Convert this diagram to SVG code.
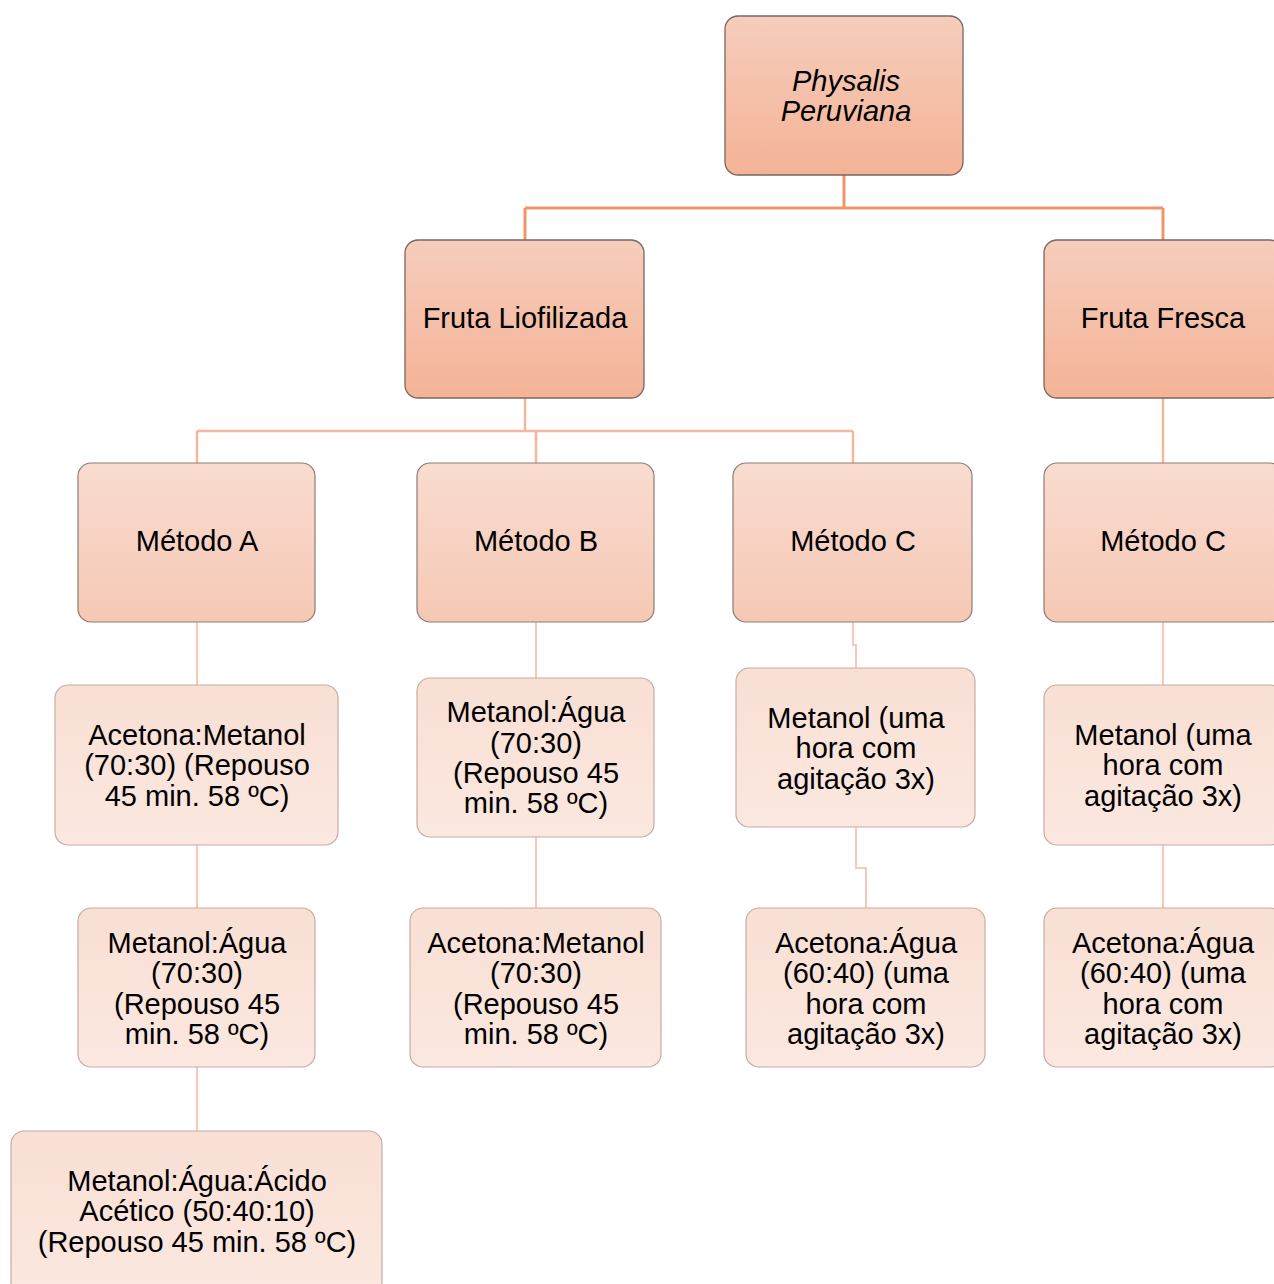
<svg xmlns="http://www.w3.org/2000/svg" width="1274" height="1284" viewBox="0 0 1274 1284">
<defs>
<linearGradient id="g1" x1="0" y1="0" x2="0" y2="1"><stop offset="0" stop-color="#f6cdbc"/><stop offset="1" stop-color="#f4b396"/></linearGradient>
<linearGradient id="g2" x1="0" y1="0" x2="0" y2="1"><stop offset="0" stop-color="#f9dcd0"/><stop offset="1" stop-color="#f6c8b4"/></linearGradient>
<linearGradient id="g3" x1="0" y1="0" x2="0" y2="1"><stop offset="0" stop-color="#f9dfd4"/><stop offset="1" stop-color="#fbe8e0"/></linearGradient>
</defs>
<style>
.n1{fill:url(#g1);stroke:#7b6660;stroke-width:1.3}
.n2{fill:url(#g2);stroke:#8c7c76;stroke-width:1.2}
.n3{fill:url(#g3);stroke:#c7aca2;stroke-width:1.2}
text{font-family:"Liberation Sans",Arial,sans-serif;font-size:29px;fill:#000;text-anchor:middle}
.c1{fill:none;stroke:#f0956a;stroke-width:3}
.c2{fill:none;stroke:#f4b69c;stroke-width:2.5}
.c3{fill:none;stroke:#f6c9b8;stroke-width:2}
</style>
<g id="connectors">
<path class="c1" d="M844 175 V208 M525 208 H1163 M525 208 V240 M1163 208 V240"/>
<path class="c2" d="M525 398 V431 M197 431 H853 M197 431 V463 M536 431 V463 M853 431 V463"/>
<path class="c2" d="M1163 398 V463"/>
<path class="c3" d="M197 622 V685 M197 845 V908 M197 1067 V1131"/>
<path class="c3" d="M536 622 V678 M536 837 V908"/>
<path class="c3" d="M853 622 V645 H856 V668 M856 827 V868 H866 V908"/>
<path class="c3" d="M1163 622 V685 M1163 845 V908"/>
</g>
<g id="root"><rect class="n1" x="725" y="16" width="238" height="159" rx="13"/>
<text x="846" y="91" font-style="italic">Physalis</text><text x="846" y="121" font-style="italic">Peruviana</text></g>
<g id="fruta-liofilizada"><rect class="n1" x="405" y="240" width="239" height="158" rx="13"/><text x="525" y="328">Fruta Liofilizada</text></g>
<g id="fruta-fresca"><rect class="n1" x="1044" y="240" width="239" height="158" rx="13"/><text x="1163" y="328">Fruta Fresca</text></g>
<g id="metodo-a"><rect class="n2" x="78" y="463" width="237" height="159" rx="13"/><text x="197" y="551">Método A</text></g>
<g id="metodo-b"><rect class="n2" x="417" y="463" width="237" height="159" rx="13"/><text x="536" y="551">Método B</text></g>
<g id="metodo-c1"><rect class="n2" x="733" y="463" width="239" height="159" rx="13"/><text x="853" y="551">Método C</text></g>
<g id="metodo-c2"><rect class="n2" x="1044" y="463" width="239" height="159" rx="13"/><text x="1163" y="551">Método C</text></g>
<g id="a1"><rect class="n3" x="55" y="685" width="283" height="160" rx="13"/>
<text x="197" y="745">Acetona:Metanol</text><text x="197" y="775">(70:30) (Repouso</text><text x="197" y="806">45 min. 58 ºC)</text></g>
<g id="b1"><rect class="n3" x="417" y="678" width="237" height="159" rx="13"/>
<text x="536" y="722">Metanol:Água</text><text x="536" y="753">(70:30)</text><text x="536" y="783">(Repouso 45</text><text x="536" y="813">min. 58 ºC)</text></g>
<g id="c1"><rect class="n3" x="736" y="668" width="239" height="159" rx="13"/>
<text x="856" y="728">Metanol (uma</text><text x="856" y="758">hora com</text><text x="856" y="789">agitação 3x)</text></g>
<g id="d1"><rect class="n3" x="1044" y="685" width="239" height="160" rx="13"/>
<text x="1163" y="745">Metanol (uma</text><text x="1163" y="775">hora com</text><text x="1163" y="806">agitação 3x)</text></g>
<g id="a2"><rect class="n3" x="78" y="908" width="237" height="159" rx="13"/>
<text x="197" y="953">Metanol:Água</text><text x="197" y="983">(70:30)</text><text x="197" y="1014">(Repouso 45</text><text x="197" y="1044">min. 58 ºC)</text></g>
<g id="b2"><rect class="n3" x="410" y="908" width="251" height="159" rx="13"/>
<text x="536" y="953">Acetona:Metanol</text><text x="536" y="983">(70:30)</text><text x="536" y="1014">(Repouso 45</text><text x="536" y="1044">min. 58 ºC)</text></g>
<g id="c2"><rect class="n3" x="746" y="908" width="239" height="159" rx="13"/>
<text x="866" y="953">Acetona:Água</text><text x="866" y="983">(60:40) (uma</text><text x="866" y="1014">hora com</text><text x="866" y="1044">agitação 3x)</text></g>
<g id="d2"><rect class="n3" x="1044" y="908" width="239" height="159" rx="13"/>
<text x="1163" y="953">Acetona:Água</text><text x="1163" y="983">(60:40) (uma</text><text x="1163" y="1014">hora com</text><text x="1163" y="1044">agitação 3x)</text></g>
<g id="a3"><rect class="n3" x="11" y="1131" width="371" height="165" rx="13"/>
<text x="197" y="1191">Metanol:Água:Ácido</text><text x="197" y="1221">Acético (50:40:10)</text><text x="197" y="1252">(Repouso 45 min. 58 ºC)</text></g>
</svg>
